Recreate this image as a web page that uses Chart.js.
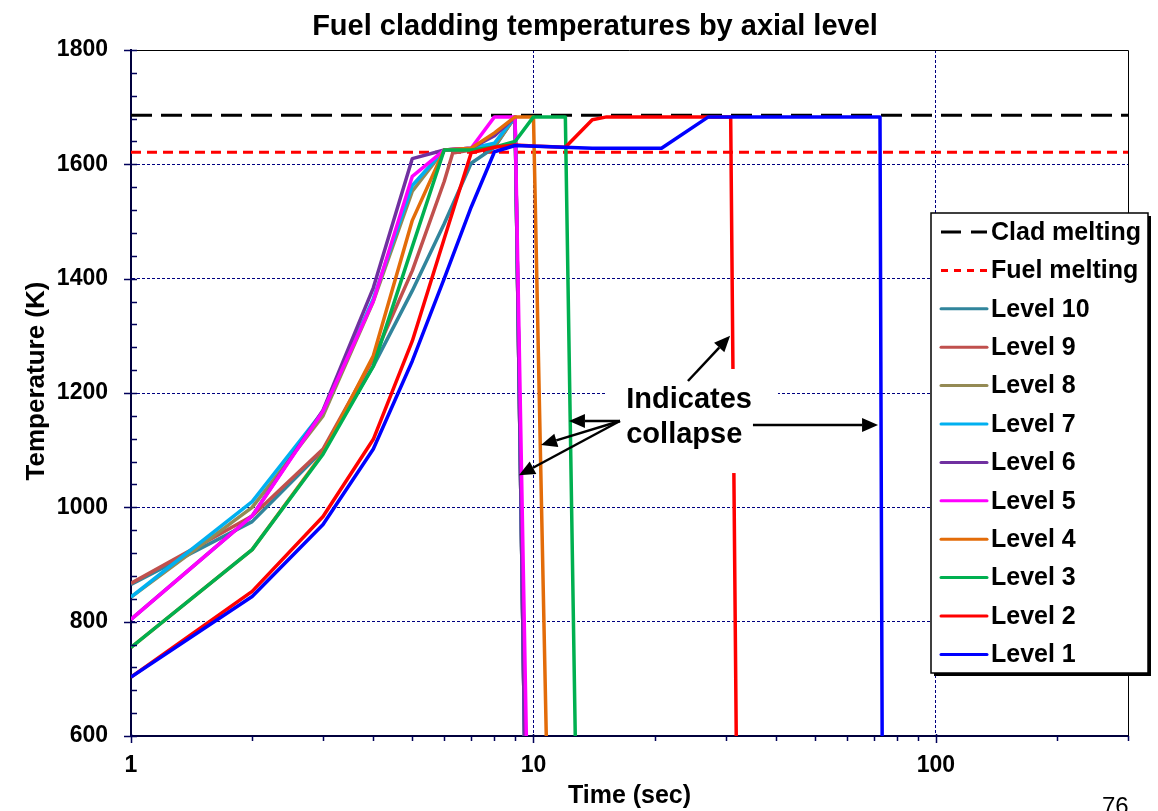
<!DOCTYPE html>
<html>
<head>
<meta charset="utf-8">
<script src="https://cdn.jsdelivr.net/npm/chart.js@4.4.1/dist/chart.umd.min.js"></script>
<style>
    html, body { margin: 0; padding: 0; background: #fff; overflow: hidden; }
</style>
</head>
<body>
<canvas id="claddingChart" width="1158" height="811"></canvas>
<script>
/**
 * Fuel cladding temperatures by axial level
 */

// Melting limits (K)
const cladMelting = 1686;
const fuelMelting = 1621;

// Time (s) and temperature (K) per axial level
const level10Time = [1, 2, 3, 4, 5, 6, 7, 8, 9, 9.5];
const level10Temp = [865, 975, 1100, 1247, 1379, 1496, 1602, 1630, 1683, 600];
const level9Time = [1, 2, 3, 4, 5, 6, 6.3, 7, 8, 9, 9.5];
const level9Temp = [867, 985, 1102, 1260, 1414, 1570, 1620, 1625, 1632, 1683, 600];
const level8Time = [1, 2, 3, 4, 5, 6, 7, 8, 9, 9.5];
const level8Temp = [843, 1000, 1160, 1360, 1553, 1625, 1627, 1632, 1683, 600];
const level7Time = [1, 2, 3, 4, 5, 6, 7, 8, 9, 9.5];
const level7Temp = [843, 1010, 1168, 1365, 1563, 1625, 1628, 1637, 1683, 600];
const level6Time = [1, 2, 3, 4, 5, 6, 7, 8, 9, 9.5];
const level6Temp = [804, 985, 1170, 1384, 1610, 1625, 1628, 1650, 1683, 600];
const level5Time = [1, 2, 3, 4, 5, 6, 7, 8, 9, 9.6];
const level5Temp = [804, 985, 1168, 1361, 1579, 1625, 1628, 1683, 1683, 600];
const level4Time = [1, 2, 3, 4, 5, 6, 7, 8, 9, 10, 10.76];
const level4Temp = [755, 926, 1095, 1265, 1502, 1625, 1628, 1655, 1683, 1683, 600];
const level3Time = [1, 2, 3, 4, 5, 6, 7, 8, 9, 10, 12, 12.7];
const level3Temp = [755, 926, 1093, 1247, 1456, 1625, 1625, 1630, 1640, 1683, 1683, 600];
const level2Time = [1, 2, 3, 4, 5, 6, 7, 8, 9, 10, 12, 14, 15.2, 30.9, 31.9];
const level2Temp = [703, 853, 984, 1119, 1291, 1470, 1620, 1630, 1634, 1632, 1630, 1678, 1683, 1683, 600];
const level1Time = [1, 2, 3, 4, 5, 6, 7, 8, 9, 14, 20.8, 27.2, 72.6, 73.5];
const level1Temp = [703, 844, 970, 1102, 1256, 1400, 1525, 1622, 1633, 1628, 1628, 1683, 1683, 600];

// Axes
const timeRange = [1, 300];
const timeTicks = [1, 2, 3, 4, 5, 6, 7, 8, 9, 10, 20, 30, 40, 50, 60, 70, 80, 90, 100, 200, 300];
const timeLabels = [1, 10, 100];
const tempTicks = [600, 800, 1000, 1200, 1400, 1600, 1800];
const tempMinorStep = 40;

// Annotation anchors (time, temperature)
const annoBox = { t0: 15.1, t1: 40.5, k0: 1242, k1: 1060 };
const annoText = [
    { text: 'Indicates', t: 17, k: 1174 },
    { text: 'collapse', t: 17, k: 1112 }
];
const annoArrows = [
    { from: [24.2, 1221], to: [30.8, 1300] },
    { from: [16.4, 1151], to: [12.25, 1151] },
    { from: [16.4, 1151], to: [10.44, 1109] },
    { from: [16.4, 1151], to: [9.2, 1056] },
    { from: [35.1, 1144], to: [71.8, 1144] }
];

const FONT = '"Liberation Sans", Arial, Helvetica, sans-serif';

function toPoints(times, temps) {
    return times.map((t, i) => ({ x: t, y: temps[i] }));
}

function levelSet(label, color, times, temps, idx) {
    return {
        label,
        data: toPoints(times, temps),
        borderColor: color,
        backgroundColor: color,
        borderWidth: 3.5,
        borderJoinStyle: 'round',
        order: 20 - idx
    };
}

const datasets = [
    {
        label: 'Clad melting',
        data: toPoints(timeRange, [cladMelting, cladMelting]),
        borderColor: '#000000',
        borderWidth: 3,
        borderDash: [21, 9],
        legendDash: [20, 10],
        order: 20
    },
    {
        label: 'Fuel melting',
        data: toPoints(timeRange, [fuelMelting, fuelMelting]),
        borderColor: '#FF0000',
        borderWidth: 3,
        borderDash: [10, 6],
        legendDash: [7, 6],
        order: 19
    },
    levelSet('Level 10', '#31859C', level10Time, level10Temp, 2),
    levelSet('Level 9', '#C0504D', level9Time, level9Temp, 3),
    levelSet('Level 8', '#948A54', level8Time, level8Temp, 4),
    levelSet('Level 7', '#00B0F0', level7Time, level7Temp, 5),
    levelSet('Level 6', '#7030A0', level6Time, level6Temp, 6),
    levelSet('Level 5', '#FF00FF', level5Time, level5Temp, 7),
    levelSet('Level 4', '#E36C09', level4Time, level4Temp, 8),
    levelSet('Level 3', '#00B050', level3Time, level3Temp, 9),
    levelSet('Level 2', '#FF0000', level2Time, level2Temp, 10),
    levelSet('Level 1', '#0000FF', level1Time, level1Temp, 11)
];

function drawArrow(ctx, x1, y1, x2, y2) {
    const ang = Math.atan2(y2 - y1, x2 - x1);
    const len = 16, half = 7;
    const bx = x2 - len * Math.cos(ang), by = y2 - len * Math.sin(ang);
    ctx.beginPath();
    ctx.moveTo(x1, y1);
    ctx.lineTo(bx, by);
    ctx.stroke();
    ctx.beginPath();
    ctx.moveTo(x2, y2);
    ctx.lineTo(bx + half * Math.sin(ang), by - half * Math.cos(ang));
    ctx.lineTo(bx - half * Math.sin(ang), by + half * Math.cos(ang));
    ctx.closePath();
    ctx.fill();
}

/**
 * Frame, tick marks, annotation, legend and titles
 */
const decorPlugin = {
    id: 'decor',
    afterDatasetsDraw(chart) {
        const { ctx, chartArea: a, scales: { x, y } } = chart;
        ctx.save();

        // top / right frame
        ctx.strokeStyle = '#000';
        ctx.lineWidth = 1;
        ctx.beginPath();
        ctx.moveTo(a.left, a.top + 0.5);
        ctx.lineTo(a.right + 0.5, a.top + 0.5);
        ctx.lineTo(a.right + 0.5, a.bottom);
        ctx.stroke();

        // tick marks
        ctx.strokeStyle = '#00005A';
        ctx.lineWidth = 1.5;
        ctx.beginPath();
        for (let v = tempTicks[0]; v <= tempTicks[tempTicks.length - 1]; v += tempMinorStep) {
            const py = Math.round(y.getPixelForValue(v)) + 0.5;
            const major = tempTicks.includes(v);
            ctx.moveTo(a.left - (major ? 7 : 0), py);
            ctx.lineTo(a.left + 6, py);
        }
        timeTicks.forEach(t => {
            const px = Math.round(x.getPixelForValue(t)) + 0.5;
            const major = timeLabels.includes(t);
            ctx.moveTo(px, a.bottom - (major ? 2 : 0));
            ctx.lineTo(px, a.bottom + (major ? 7 : 5));
        });
        ctx.stroke();

        // annotation
        const bx0 = x.getPixelForValue(annoBox.t0), bx1 = x.getPixelForValue(annoBox.t1);
        const by0 = y.getPixelForValue(annoBox.k0), by1 = y.getPixelForValue(annoBox.k1);
        ctx.fillStyle = '#fff';
        ctx.fillRect(bx0, by0, bx1 - bx0, by1 - by0);

        ctx.fillStyle = '#000';
        ctx.font = 'bold 29px ' + FONT;
        ctx.textAlign = 'left';
        ctx.textBaseline = 'alphabetic';
        annoText.forEach(l => ctx.fillText(l.text, x.getPixelForValue(l.t), y.getPixelForValue(l.k)));

        ctx.strokeStyle = '#000';
        ctx.lineWidth = 2.5;
        annoArrows.forEach(ar => drawArrow(ctx,
            x.getPixelForValue(ar.from[0]), y.getPixelForValue(ar.from[1]),
            x.getPixelForValue(ar.to[0]), y.getPixelForValue(ar.to[1])));

        // legend box
        const lx = 931, ly = 213, lw = 217, lh = 460, row = 38.4;
        ctx.fillStyle = '#000';
        ctx.fillRect(lx + 3, ly + 3, lw, lh);
        ctx.fillStyle = '#fff';
        ctx.fillRect(lx, ly, lw, lh);
        ctx.strokeStyle = '#000';
        ctx.lineWidth = 1.5;
        ctx.strokeRect(lx, ly, lw, lh);

        ctx.font = 'bold 25px ' + FONT;
        ctx.textBaseline = 'middle';
        chart.data.datasets.forEach((ds, i) => {
            const cy = ly + 19 + i * row;
            ctx.strokeStyle = ds.borderColor;
            ctx.lineWidth = 3;
            ctx.lineCap = ds.legendDash ? 'butt' : 'round';
            ctx.setLineDash(ds.legendDash || []);
            ctx.beginPath();
            ctx.moveTo(lx + 10, cy);
            ctx.lineTo(lx + 56, cy);
            ctx.stroke();
            ctx.setLineDash([]);
            ctx.fillStyle = '#000';
            ctx.fillText(ds.label, lx + 60, cy + 1);
        });

        ctx.restore();
    },
    afterDraw(chart) {
        const { ctx } = chart;
        ctx.save();
        ctx.fillStyle = '#000';
        ctx.textAlign = 'center';
        ctx.textBaseline = 'alphabetic';
        ctx.font = 'bold 29px ' + FONT;
        ctx.fillText('Fuel cladding temperatures by axial level', 595, 35);

        // y axis title
        ctx.save();
        ctx.translate(37, 381);
        ctx.rotate(-Math.PI / 2);
        ctx.textBaseline = 'middle';
        ctx.font = 'bold 26px ' + FONT;
        ctx.fillText('Temperature (K)', 0, 0);
        ctx.restore();

        ctx.textAlign = 'left';
        ctx.font = '24px ' + FONT;
        ctx.fillText('76', 1102, 814);
        ctx.restore();
    }
};

const gridColor = '#000080';

new Chart(document.getElementById('claddingChart'), {
    type: 'line',
    data: { datasets },
    options: {
        responsive: false,
        animation: false,
        layout: { padding: { top: 50, right: 30, left: 0, bottom: 0 } },
        elements: { point: { radius: 0 }, line: { tension: 0 } },
        plugins: {
            legend: { display: false },
            tooltip: { enabled: false },
            title: { display: false }
        },
        scales: {
            x: {
                type: 'logarithmic',
                min: timeRange[0],
                max: timeRange[1],
                afterFit: s => { s.height = 75; },
                afterBuildTicks: s => { s.ticks = timeTicks.map(v => ({ value: v })); },
                ticks: {
                    autoSkip: false,
                    maxRotation: 0,
                    padding: 16,
                    color: '#000',
                    font: { family: FONT, size: 23, weight: 'bold' },
                    callback: v => timeLabels.includes(v) ? String(v) : ''
                },
                grid: {
                    drawTicks: false,
                    lineWidth: 1,
                    color: c => (c.tick && [10, 100].includes(c.tick.value)) ? gridColor : 'rgba(0,0,0,0)'
                },
                border: { display: true, color: '#00003C', width: 2, dash: [3, 2] },
                title: {
                    display: true,
                    text: 'Time (sec)',
                    color: '#000',
                    font: { family: FONT, size: 25, weight: 'bold' },
                    padding: { top: 0, bottom: 0 }
                }
            },
            y: {
                min: tempTicks[0],
                max: tempTicks[tempTicks.length - 1],
                afterFit: s => { s.width = 131; },
                afterBuildTicks: s => { s.ticks = tempTicks.map(v => ({ value: v })); },
                ticks: {
                    padding: 23,
                    color: '#000',
                    font: { family: FONT, size: 23, weight: 'bold' },
                    callback: v => String(v)
                },
                grid: {
                    drawTicks: false,
                    lineWidth: 1,
                    color: c => (c.tick && c.tick.value > 600 && c.tick.value < 1800) ? gridColor : 'rgba(0,0,0,0)'
                },
                border: { display: true, color: '#00003C', width: 2, dash: [3, 2] },
                title: { display: false }
            }
        }
    },
    plugins: [decorPlugin]
});
</script>
</body>
</html>
